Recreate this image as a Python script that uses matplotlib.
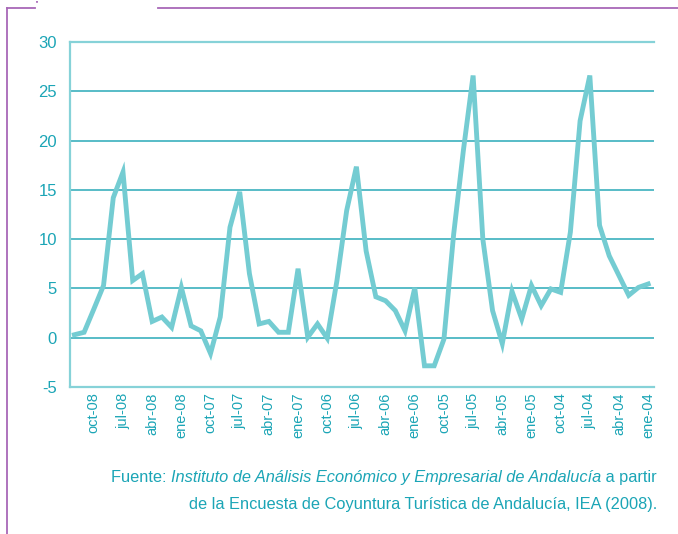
import numpy as np
import matplotlib
matplotlib.use("Agg")
import matplotlib.pyplot as plt
from matplotlib.lines import Line2D

plt.rcParams['font.family'] = ['Liberation Sans', 'DejaVu Sans']
plt.rcParams['axes.unicode_minus'] = False

# monthly values, dic-08 (left) back to ene-04 (right)
values = [0.3, 0.55, 2.9, 5.3, 14.2, 16.8, 5.8, 6.5, 1.65, 2.1,
          1.05, 5.1, 1.2, 0.7, -1.6, 2.1, 11.2, 14.8, 6.5, 1.4,
          1.65, 0.55, 0.55, 7.0, 0.05, 1.4, -0.05, 5.8, 12.9, 17.35,
          8.8, 4.15, 3.75, 2.75, 0.7, 5.05, -2.85, -2.85, -0.15, 10.5,
          19.0, 26.6, 10.0, 2.75, -0.6, 4.7, 1.9, 5.3, 3.25, 4.95,
          4.6, 10.7, 22.0, 26.6, 11.4, 8.3, 6.3, 4.3, 5.1, 5.45]
tick_labels = ["oct-08", "jul-08", "abr-08", "ene-08", "oct-07", "jul-07",
               "abr-07", "ene-07", "oct-06", "jul-06", "abr-06", "ene-06",
               "oct-05", "jul-05", "abr-05", "ene-05", "oct-04", "jul-04",
               "abr-04", "ene-04"]
y_ticks = [-5, 0, 5, 10, 15, 20, 25, 30]

line_col = '#74ccd2'
grid_col = '#2aaab8'
frame_col = '#86d2d8'
text_col = '#1ba5b6'
purple = '#a868b8'

W, H = 678, 534
fig = plt.figure(figsize=(W / 100, H / 100), dpi=100)
ax = fig.add_axes([69.5 / W, 1 - 387 / H, (654 - 69.5) / W, (387 - 42) / H])

x = np.arange(len(values))
ax.plot(x, values, color=line_col, lw=3.5, solid_joinstyle='miter', zorder=3)

ax.set_xlim(-0.5, 59.6)
ax.set_ylim(-5, 30)
ax.set_yticks(y_ticks)
ax.set_xticks(x[2::3])
ax.set_xticklabels(tick_labels, rotation=90)
ax.tick_params(axis='both', length=0, colors=text_col)
ax.tick_params(axis='y', labelsize=12, pad=9)
ax.tick_params(axis='x', labelsize=10.5, pad=4)
ax.yaxis.grid(True, color=grid_col, lw=1.1, zorder=1)
ax.set_axisbelow(True)
for s in ['left', 'top', 'bottom']:
    ax.spines[s].set_color(frame_col)
    ax.spines[s].set_linewidth(1.6)
ax.spines['right'].set_visible(False)

# purple page decoration
def pline(xs, ys, lw=1.3):
    fig.add_artist(Line2D([v / W for v in xs], [1 - v / H for v in ys],
                          color=purple, lw=lw))

pline([7, 7], [8, 534])
pline([7, 35], [8, 8])
pline([158, 678], [8, 8])
fig.add_artist(Line2D([37 / W, 37 / W], [1 - 1 / H, 1 - 6 / H], color=purple,
                      lw=1.3, ls=(0, (1, 2))))

# source note, right aligned
fig.canvas.draw()
r = fig.canvas.get_renderer()
fs = 11.8
y1 = 1 - 482 / H
y2 = 1 - 509 / H
xr = 657 / W
pieces = [("Fuente: ", 'normal'),
          ("Instituto de Análisis Económico y Empresarial de Andalucía", 'italic'),
          (" a partir", 'normal')]
for txt, st in reversed(pieces):
    t = fig.text(xr, y1, txt, ha='right', va='baseline', fontsize=fs,
                 style=st, color=text_col)
    bb = t.get_window_extent(r)
    xr = bb.x0 / W
fig.text(657 / W, y2, "de la Encuesta de Coyuntura Turística de Andalucía, IEA (2008).",
         ha='right', va='baseline', fontsize=fs, color=text_col)

fig.savefig("out.png", dpi=100)
